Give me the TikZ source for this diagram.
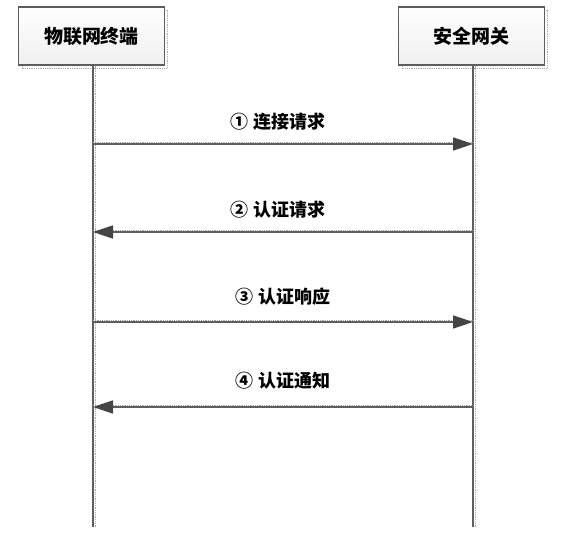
\documentclass[tikz,border=0pt]{standalone}
\usepackage{fontspec}
\newfontfamily\cjk{Noto Sans CJK SC}[BoldFont={Noto Sans CJK SC Black}]
\usetikzlibrary{arrows.meta}
\definecolor{linegray}{HTML}{5E5E5E}
\definecolor{shadegray}{HTML}{A8A8A8}
\definecolor{tipgray}{HTML}{454545}
\begin{document}
\begin{tikzpicture}[x=1pt,y=-1pt,
  actor/.style={draw=linegray,line width=1.2pt,top color=white,bottom color=black!6,
    minimum width=146pt,minimum height=58pt,inner sep=0pt,
    font=\cjk\bfseries\fontsize{19}{22}\selectfont},
  actorshade/.style={draw=shadegray,densely dotted,line width=0.8pt},
  lifeline/.style={draw=linegray,line width=1.8pt},
  lifeshade/.style={draw=shadegray,densely dotted,line width=0.8pt},
  msg/.style={draw=linegray,line width=1.6pt,-{Triangle[length=20pt,width=13pt,fill=tipgray,color=tipgray]}},
  msglabel/.style={font=\cjk\bfseries\fontsize{18}{21}\selectfont,inner sep=0pt}]
\useasboundingbox (0,0) rectangle (568,536);

% drop shadows of the two actor boxes
\draw[actorshade] (22,10) rectangle (167,68);
\draw[actorshade] (402,10) rectangle (547,68);

% actor boxes
\node[actor] (term) at (91.5,36) {物联网终端};
\node[actor] (gw)   at (471.5,36) {安全网关};

% lifeline ends
\coordinate (tA) at (93,527);
\coordinate (gA) at (473,527);
\draw[lifeshade] ([xshift=2pt]term.south -| tA) -- ([xshift=2pt]tA);
\draw[lifeshade] ([xshift=2pt]gw.south -| gA) -- ([xshift=2pt]gA);
\draw[lifeline] (term.south -| tA) -- (tA);
\draw[lifeline] (gw.south -| gA) -- (gA);

% message anchors on the lifelines
\coordinate (t1) at (93,144);  \coordinate (g1) at (473,144);
\coordinate (t2) at (93,232);  \coordinate (g2) at (473,232);
\coordinate (t3) at (93,322);  \coordinate (g3) at (473,322);
\coordinate (t4) at (93,407);  \coordinate (g4) at (473,407);

% light shadows under the message lines
\foreach \a/\b in {t1/g1,t2/g2,t3/g3,t4/g4}
  \draw[lifeshade] ([yshift=2pt]\a) -- ([yshift=2pt]\b);

% messages
\draw[msg] (t1) -- (g1);
\draw[msg] (g2) -- (t2);
\draw[msg] (t3) -- (g3);
\draw[msg] (g4) -- (t4);

% message labels
\node[msglabel] (l1) at (278,122) {① 连接请求};
\node[msglabel] (l2) at (278,210) {② 认证请求};
\node[msglabel] (l3) at (283,297) {③\ 认证响应};
\node[msglabel] (l4) at (283,381) {④\ 认证通知};
\end{tikzpicture}
\end{document}
